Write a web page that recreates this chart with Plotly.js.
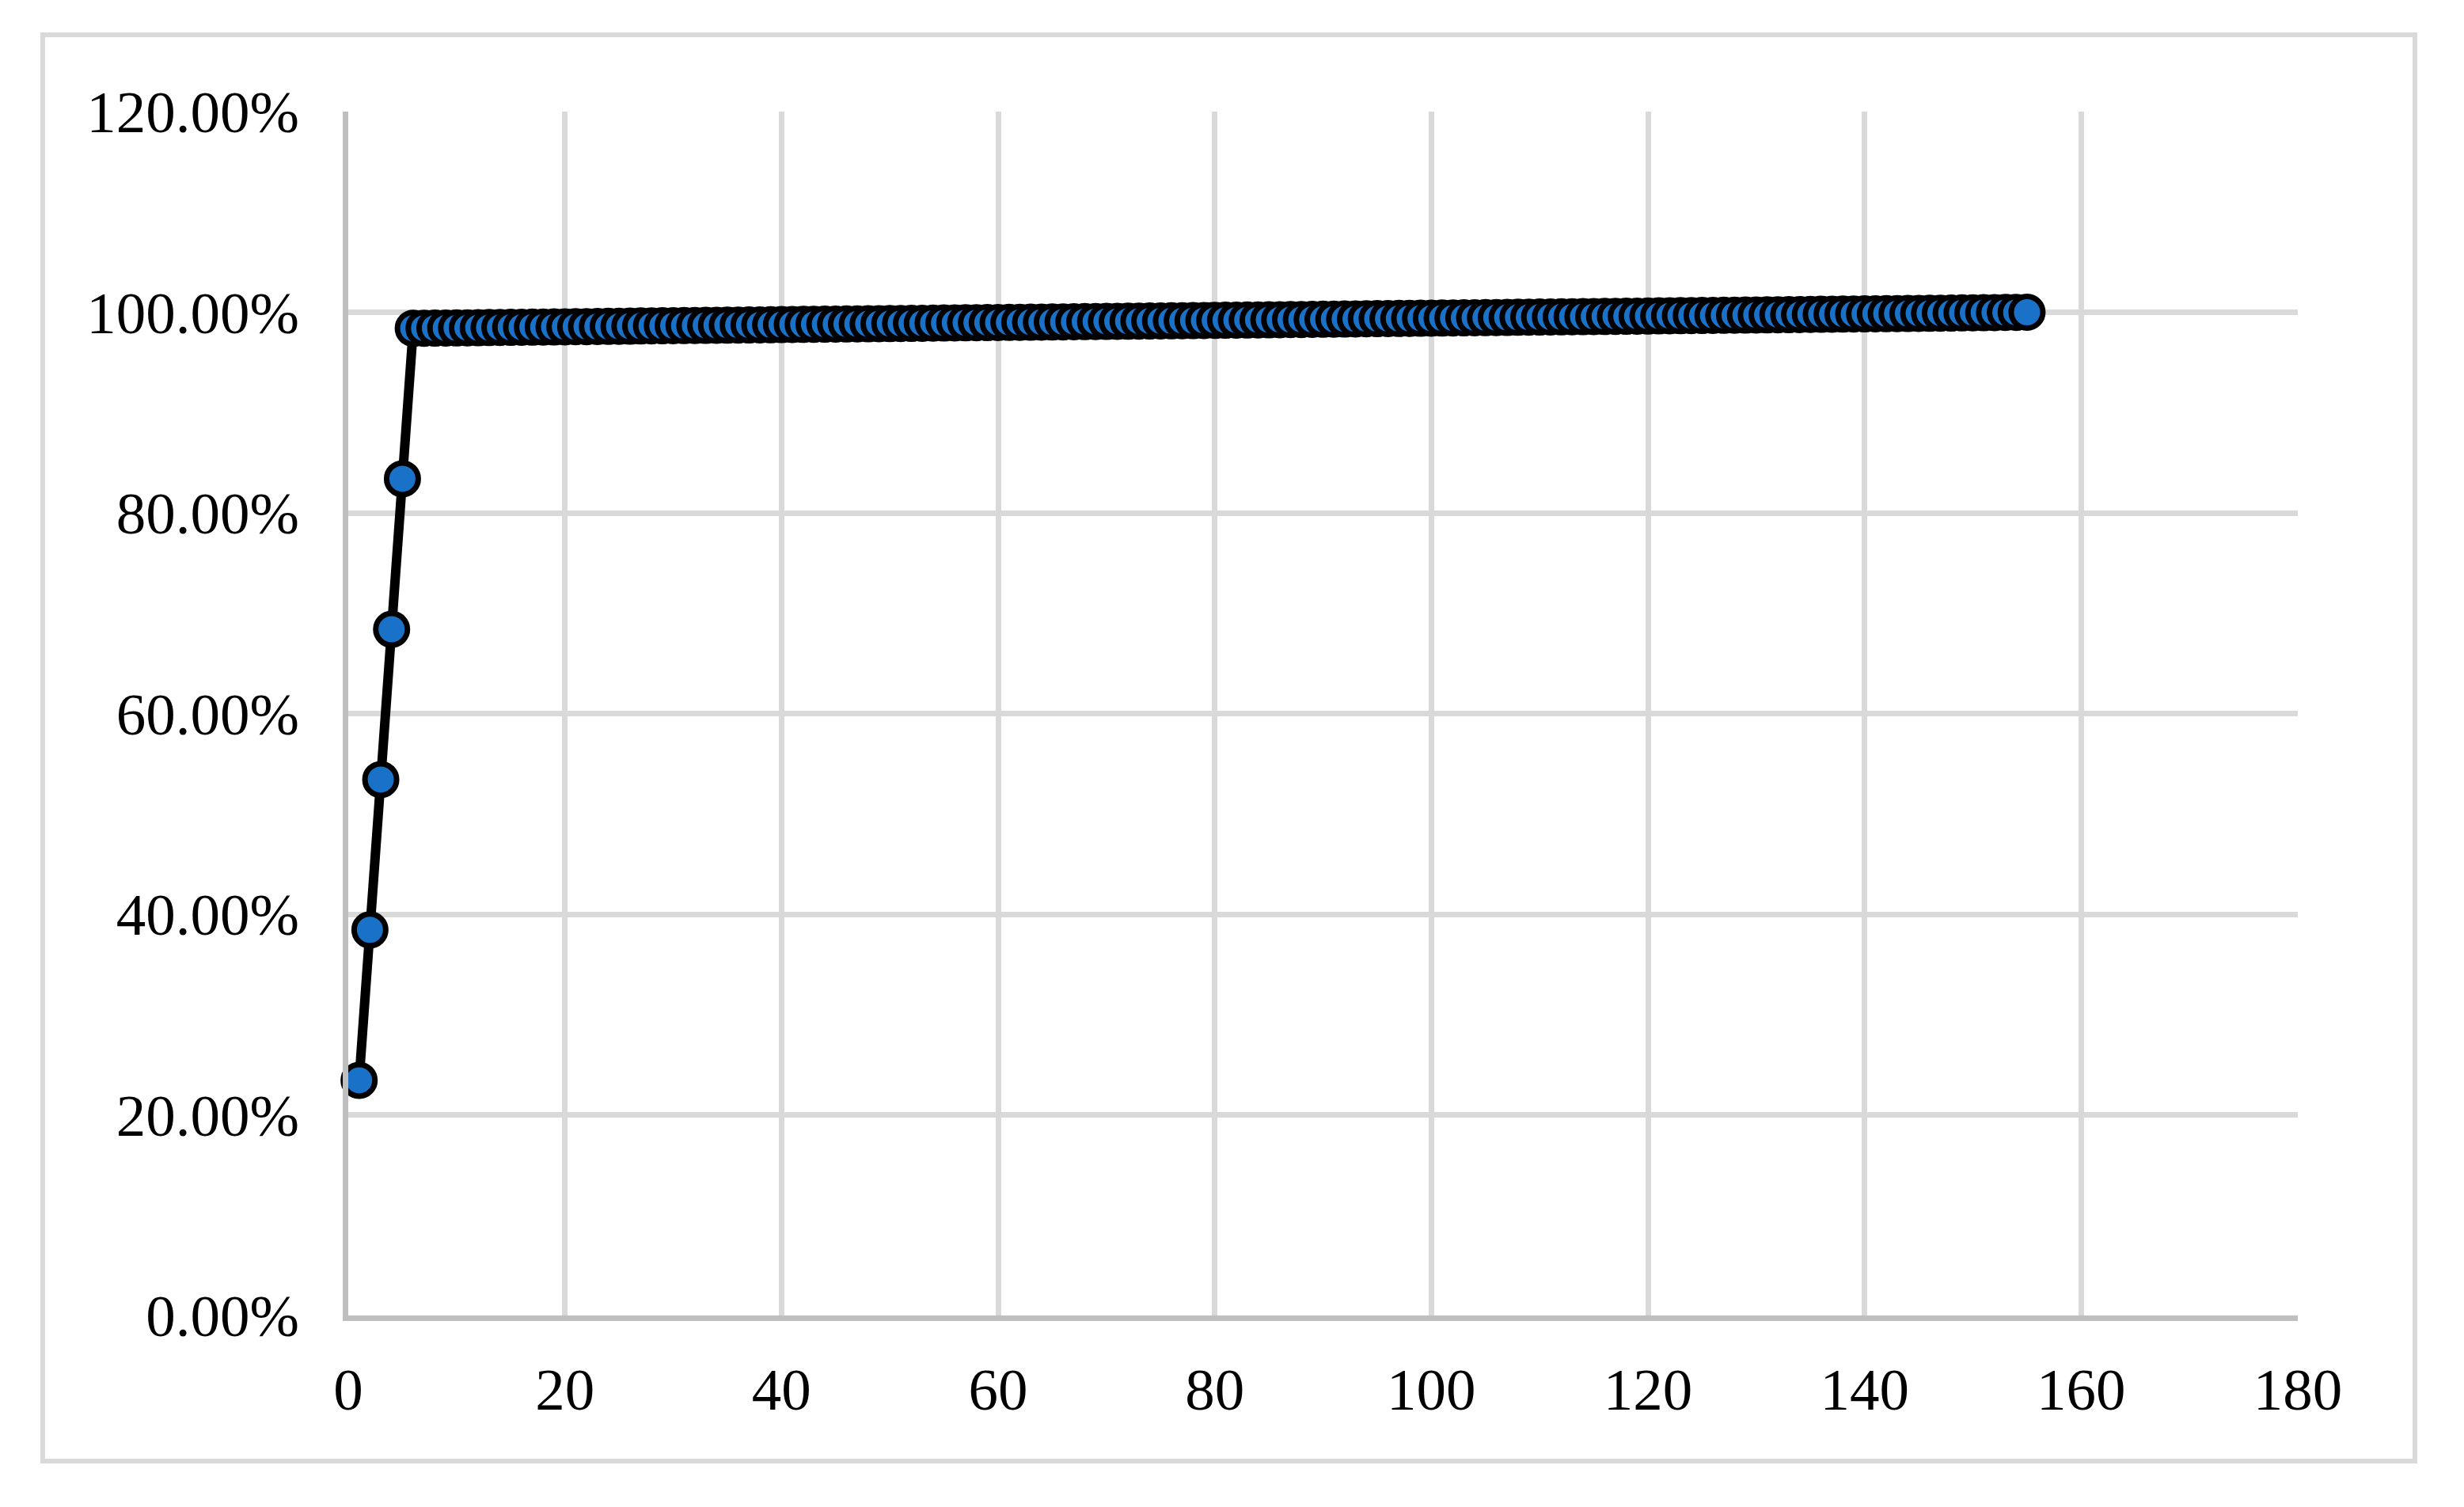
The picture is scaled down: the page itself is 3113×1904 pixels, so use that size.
<!DOCTYPE html>
<html>
<head>
<meta charset="utf-8">
<script src="https://cdn.plot.ly/plotly-3.0.1.min.js"></script>
<style>
html,body{margin:0;padding:0;background:#fff;}
#chart{width:3113px;height:1904px;}
</style>
</head>
<body>
<div id="chart"></div>
<script>
// Cumulative percentage values (in %), item index starts at 1
const headValues = [23.44, 38.44, 53.42, 68.40, 83.40];
const tailValues = [
  98.40, 98.41, 98.42, 98.43, 98.44, 98.45, 98.46, 98.48, 98.49, 98.50,
  98.51, 98.52, 98.53, 98.54, 98.55, 98.56, 98.57, 98.58, 98.59, 98.60,
  98.61, 98.63, 98.64, 98.65, 98.66, 98.67, 98.68, 98.69, 98.70, 98.71,
  98.72, 98.73, 98.74, 98.75, 98.77, 98.78, 98.79, 98.80, 98.81, 98.82,
  98.83, 98.84, 98.85, 98.86, 98.87, 98.88, 98.89, 98.90, 98.92, 98.93,
  98.94, 98.95, 98.96, 98.97, 98.98, 98.99, 99.00, 99.01, 99.02, 99.03,
  99.04, 99.06, 99.07, 99.08, 99.09, 99.10, 99.11, 99.12, 99.13, 99.14,
  99.15, 99.16, 99.17, 99.18, 99.19, 99.21, 99.22, 99.23, 99.24, 99.25,
  99.26, 99.27, 99.28, 99.29, 99.30, 99.31, 99.32, 99.33, 99.35, 99.36,
  99.37, 99.38, 99.39, 99.40, 99.41, 99.42, 99.43, 99.44, 99.45, 99.46,
  99.47, 99.48, 99.50, 99.51, 99.52, 99.53, 99.54, 99.55, 99.56, 99.57,
  99.58, 99.59, 99.60, 99.61, 99.62, 99.64, 99.65, 99.66, 99.67, 99.68,
  99.69, 99.70, 99.71, 99.72, 99.73, 99.74, 99.75, 99.76, 99.77, 99.79,
  99.80, 99.81, 99.82, 99.83, 99.84, 99.85, 99.86, 99.87, 99.88, 99.89,
  99.90, 99.91, 99.92, 99.94, 99.95, 99.96, 99.97, 99.98, 99.99, 100.00
];
const yValues = headValues.concat(tailValues);
const firstIndex = 1;

const xTicks = [0, 20, 40, 60, 80, 100, 120, 140, 160, 180];
const yTicks = [0, 20, 40, 60, 80, 100, 120];
const yTickText = yTicks.map(v => v.toFixed(2) + '%');

const W = 3113, H = 1904;
const L = 440, R = 2903, T = 141, B = 1662;
const pw = R - L, ph = B - T;

const trace = {
  type: 'scatter',
  mode: 'lines+markers',
  x0: firstIndex,
  dx: 1,
  y: yValues,
  line: {color: '#000000', width: 12},
  marker: {size: 40, color: '#1a72c8', line: {color: '#000000', width: 7}},
  cliponaxis: false,
  hoverinfo: 'skip'
};

const font = {family: '"Liberation Serif", "Times New Roman", serif', size: 75, color: '#000000'};

const layout = {
  width: W, height: H,
  margin: {l: L, r: W - R, t: T, b: H - B, pad: 0},
  paper_bgcolor: '#ffffff',
  plot_bgcolor: '#ffffff',
  showlegend: false,
  font: font,
  xaxis: {
    range: [0, 180],
    tickvals: xTicks,
    ticktext: xTicks.map(String),
    showgrid: true, gridcolor: '#d9d9d9', gridwidth: 7,
    zeroline: false,
    showline: true, linecolor: '#bfbfbf', linewidth: 7,
    ticks: '', ticklabelstandoff: 22,
    tickfont: font,
    fixedrange: true
  },
  yaxis: {
    range: [0, 120],
    tickvals: yTicks,
    ticktext: yTickText,
    showgrid: true, gridcolor: '#d9d9d9', gridwidth: 7,
    zeroline: false,
    showline: true, linecolor: '#bfbfbf', linewidth: 7,
    ticks: '', ticklabelstandoff: 40,
    tickfont: font,
    fixedrange: true
  },
  shapes: [
    {
      type: 'rect', xref: 'paper', yref: 'paper',
      x0: (54 - L) / pw, x1: (3051 - L) / pw,
      y0: (B - 1846) / ph, y1: (B - 44) / ph,
      line: {color: '#d9d9d9', width: 6},
      fillcolor: 'rgba(0,0,0,0)',
      layer: 'below'
    }
  ]
};

Plotly.newPlot('chart', [trace], layout, {displayModeBar: false, staticPlot: true});
</script>
</body>
</html>
